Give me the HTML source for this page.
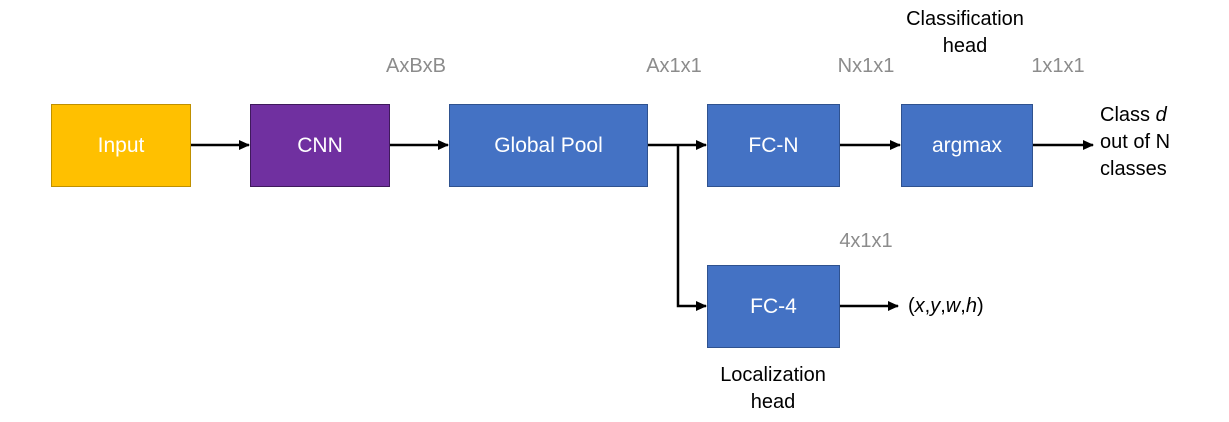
<html><head><style>
body{margin:0;width:1229px;height:422px;background:#fff;font-family:"Liberation Sans","DejaVu Sans",sans-serif;position:relative;overflow:hidden}
.b{position:absolute;box-sizing:border-box;display:flex;align-items:center;justify-content:center;color:#fff;font-size:21px;border:1px solid #2F528F;background:#4472C4}
.t{position:absolute;font-size:20px;text-align:center;line-height:27px}
.g{color:#8c8c8c}
</style></head><body>
<div class="b" style="left:51px;top:104px;width:140px;height:83px;background:#FFC000;border-color:#BF9000">Input</div>
<div class="b" style="left:250px;top:104px;width:140px;height:83px;background:#7030A0;border-color:#3f1a5c">CNN</div>
<div class="b" style="left:449px;top:104px;width:199px;height:83px">Global Pool</div>
<div class="b" style="left:707px;top:104px;width:133px;height:83px">FC-N</div>
<div class="b" style="left:901px;top:104px;width:132px;height:83px">argmax</div>
<div class="b" style="left:707px;top:265px;width:133px;height:83px">FC-4</div>
<svg width="1229" height="422" style="position:absolute;left:0;top:0">
<defs><marker id="a" markerWidth="11" markerHeight="10" refX="10" refY="5" orient="auto" markerUnits="userSpaceOnUse"><path d="M0,0L11,5L0,10z"/></marker></defs>
<g stroke="#000" stroke-width="2.5" fill="none" marker-end="url(#a)">
<line x1="191" y1="145" x2="249" y2="145"/>
<line x1="390" y1="145" x2="448" y2="145"/>
<line x1="648" y1="145" x2="706" y2="145"/>
<polyline points="678,145 678,306 706,306"/>
<line x1="840" y1="145" x2="900" y2="145"/>
<line x1="1033" y1="145" x2="1093" y2="145"/>
<line x1="840" y1="306" x2="898" y2="306"/>
</g></svg>
<div class="t g" style="left:366px;top:53px;width:100px">AxBxB</div>
<div class="t g" style="left:624px;top:53px;width:100px">Ax1x1</div>
<div class="t g" style="left:816px;top:53px;width:100px">Nx1x1</div>
<div class="t g" style="left:1008px;top:53px;width:100px">1x1x1</div>
<div class="t g" style="left:816px;top:228px;width:100px">4x1x1</div>
<div class="t" style="left:880px;top:6px;width:170px">Classification<br>head</div>
<div class="t" style="left:1100px;top:102px;text-align:left">Class <i>d</i><br>out of N<br>classes</div>
<div class="t" style="left:908px;top:293px;text-align:left">(<i>x</i>,<i>y</i>,<i>w</i>,<i>h</i>)</div>
<div class="t" style="left:690px;top:362px;width:166px">Localization<br>head</div>
</body></html>
